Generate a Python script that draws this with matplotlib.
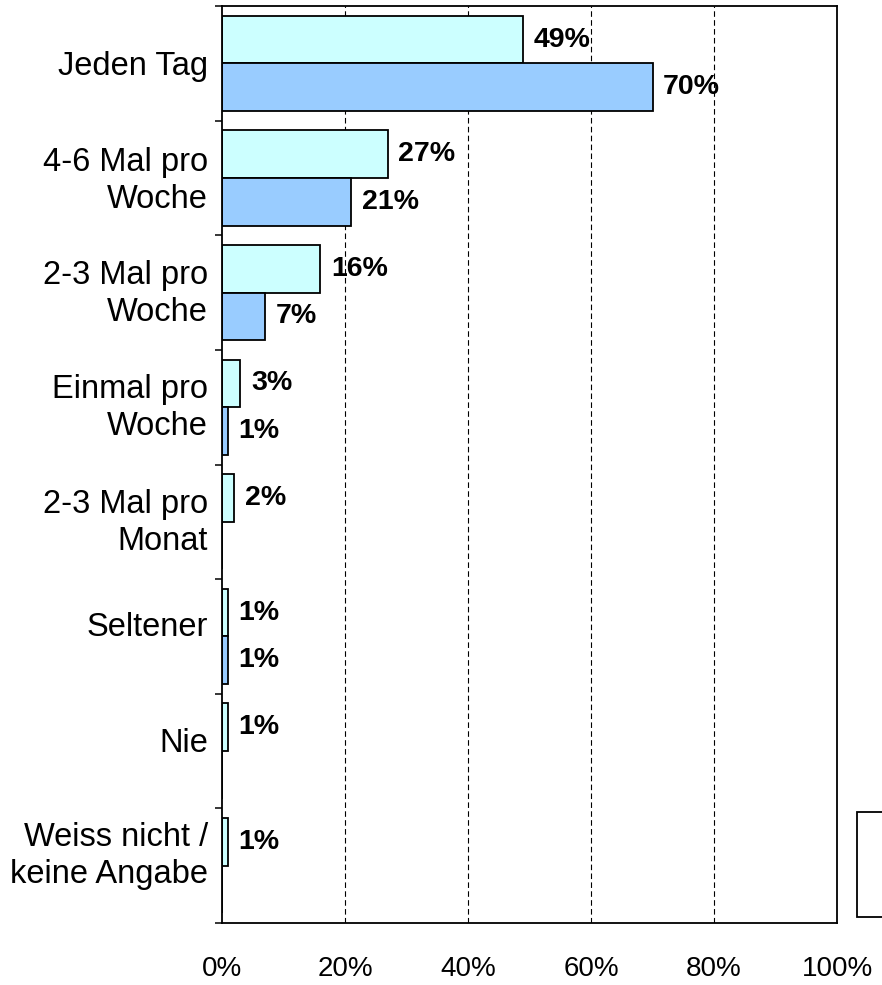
import matplotlib
matplotlib.use('Agg')
from matplotlib import pyplot as plt
from matplotlib.patches import Rectangle
import numpy as np

plt.rcParams['font.family'] = ['Liberation Sans', 'DejaVu Sans']

# Data
categories = ['Jeden Tag', '4-6 Mal pro\nWoche', '2-3 Mal pro\nWoche', 'Einmal pro\nWoche',
              '2-3 Mal pro\nMonat', 'Seltener', 'Nie', 'Weiss nicht /\nkeine Angabe']
series_a = [49, 27, 16, 3, 2, 1, 1, 1]   # upper bar (light cyan)
series_b = [70, 21, 7, 1, 0, 1, 0, 0]    # lower bar (light blue)
x_ticks = [0, 20, 40, 60, 80, 100]
x_labels = ['0%', '20%', '40%', '60%', '80%', '100%']

# category labels sit a little above the group centre in the original
label_lift = [0.0, 0.03, 0.04, 0.05, 0.05, 0.11, 0.10, 0.14]

fig = plt.figure(figsize=(8.82, 9.85), dpi=100)
ax = fig.add_axes([222 / 882, 1 - 923 / 985, (837 - 222) / 882, (923 - 6) / 985])

y = np.arange(len(categories))
h = 0.415

# Grid lines behind bars
for xv in x_ticks[1:-1]:
    ax.axvline(xv, color='black', lw=0.8, dashes=(5, 3), zorder=0)

ax.barh(y - h / 2, series_a, height=h, color='#CCFFFF', edgecolor='black', linewidth=1.3, zorder=2)
ax.barh(y + h / 2, series_b, height=h, color='#99CCFF', edgecolor='black', linewidth=1.3, zorder=2)

# Value labels (zero values are not labelled)
for i in range(len(categories)):
    for val, yy in ((series_a[i], y[i] - h / 2), (series_b[i], y[i] + h / 2)):
        if val > 0:
            ax.annotate('{}%'.format(val), xy=(val, yy), xytext=(7.5, 0), textcoords='offset points',
                        va='center', ha='left', fontsize=20.5, fontweight='bold', zorder=3)

ax.set_xlim(0, 100)
ax.set_ylim(len(categories) - 0.5, -0.5)

ax.set_xticks(x_ticks)
ax.set_xticklabels(x_labels, fontsize=20)
ax.tick_params(axis='x', length=0, pad=24)

ax.set_yticks(y - np.array(label_lift))
ax.set_yticklabels(categories, fontsize=23.5, linespacing=1.25, ha='right')
ax.set_yticks(np.arange(len(categories) + 1) - 0.5, minor=True)
ax.tick_params(axis='y', which='major', length=0, pad=10)
ax.tick_params(axis='y', which='minor', length=5, width=1.1, direction='out')

for sp in ax.spines.values():
    sp.set_linewidth(1.3)
    sp.set_color('black')

# Legend frame, cut off at the right edge
fig.patches.append(Rectangle((857 / 882, 1 - 917 / 985), 0.1, (917 - 812) / 985,
                             transform=fig.transFigure, facecolor='white',
                             edgecolor='black', linewidth=1.3, figure=fig))

fig.savefig('out.png', dpi=100)
